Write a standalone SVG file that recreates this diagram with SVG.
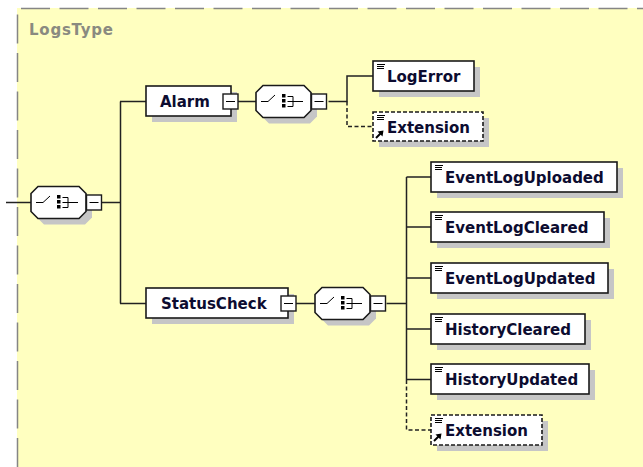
<svg xmlns="http://www.w3.org/2000/svg" xmlns:xlink="http://www.w3.org/1999/xlink" width="643" height="467" viewBox="0 0 643 467">
<style>
.bg{fill:#ffffc0}
.frame{fill:none;stroke:#858585;stroke-width:1.5;stroke-dasharray:29 9.5}
.title{font-family:"DejaVu Sans",sans-serif;font-weight:bold;font-size:15px;fill:#8a8a80}
.lbl{font-family:"DejaVu Sans",sans-serif;font-weight:bold;font-size:15px;fill:#0c0c30}
.box{fill:#fff;stroke:#1a1a1a;stroke-width:1.6}
.dbox{fill:#fff;stroke:#1a1a1a;stroke-width:1.6;stroke-dasharray:4 2}
.shadow{fill:#c6c6c6;stroke:none}
.line{fill:none;stroke:#222;stroke-width:1.5}
.dline{fill:none;stroke:#222;stroke-width:1.5;stroke-dasharray:4 2.5}
.ic{stroke:#000;stroke-width:1;fill:none}
.mb{fill:#fff;stroke:#1a1a1a;stroke-width:1.4}
</style>
<defs>
<g id="minus">
<rect class="mb" x="0" y="0" width="15" height="15"/>
<line class="ic" x1="3" y1="7.5" x2="12" y2="7.5" stroke-width="1.4"/>
</g>
<g id="seq">
<path class="shadow" d="M13,6 H54 L61,13 V31 L54,38 H13 L6,31 V13 Z"/>
<path class="box" d="M7,0 H48 L55,7 V25 L48,32 H7 L0,25 V7 Z"/>
<path class="ic" stroke-width="1.8" d="M5,16 H12 L19,9.5 M31.5,11 H37 V21 H31.5 M31.5,16 H47"/>
<rect x="26" y="8.5" width="3.5" height="3.5" fill="#000"/>
<rect x="26" y="13.5" width="3.5" height="3.5" fill="#000"/>
<rect x="26" y="18.5" width="3.5" height="3.5" fill="#000"/>
<use xlink:href="#minus" x="55.5" y="8.5"/>
</g>
<g id="eicon">
<path class="ic" d="M4,3.5 H12 M4,5.5 H11 M4,7.5 H11"/>
</g>
<g id="xicon">
<path d="M3,26 L8.5,20.5" stroke="#000" stroke-width="2"/>
<polygon points="10.5,18.5 4.5,19.5 9.5,24.5" fill="#000"/>
</g>
</defs>

<rect x="0" y="0" width="643" height="467" fill="#fff"/>
<rect class="bg" x="17" y="8" width="626" height="459"/>
<path class="frame" d="M17.5,467 V8.5 H643"/>
<text class="title" x="29" y="35" textLength="84">LogsType</text>

<g id="connectors">
<path class="line" d="M6,202.5 H31"/>
<path class="line" d="M102,202.5 H120.5 M120.5,101.5 V303.5 M120,101.5 H146 M120,303.5 H146"/>
<path class="line" d="M238,101.5 H256 M328.5,101.5 H347 V76 H373"/>
<path class="dline" d="M347,101.5 V126.5 H373"/>
<path class="line" d="M296,303.5 H315 M386.5,303.5 H406.5 M406.5,177 V380 M406.5,177 H431 M406.5,227 H431 M406.5,278 H431 M406.5,329 H431 M406.5,379.5 H431"/>
<path class="dline" d="M406.5,380 V430 H431"/>
</g>

<g id="root-sequence" transform="translate(31,186.5)"><use xlink:href="#seq"/></g>

<g id="Alarm">
<rect class="shadow" x="152" y="92" width="85" height="30"/>
<rect class="box" x="146" y="86" width="85" height="30"/>
<text class="lbl" x="160" y="107">Alarm</text>
<use xlink:href="#minus" x="223" y="94"/>
</g>
<g id="alarm-sequence" transform="translate(256,85.5)"><use xlink:href="#seq"/></g>

<g id="LogError">
<rect class="shadow" x="379" y="67" width="101" height="30"/>
<rect class="box" x="373" y="61" width="101" height="30"/>
<use xlink:href="#eicon" x="373" y="61"/>
<text class="lbl" x="387" y="82">LogError</text>
</g>
<g id="Extension1">
<rect class="shadow" x="379" y="118" width="110" height="29"/>
<rect class="dbox" x="373" y="112" width="110" height="29"/>
<use xlink:href="#eicon" x="373" y="112"/>
<use xlink:href="#xicon" x="373" y="112"/>
<text class="lbl" x="387" y="133">Extension</text>
</g>

<g id="StatusCheck">
<rect class="shadow" x="152" y="294" width="142" height="30"/>
<rect class="box" x="146" y="288" width="142" height="30"/>
<text class="lbl" x="161" y="309">StatusCheck</text>
<use xlink:href="#minus" x="281" y="296"/>
</g>
<g id="status-sequence" transform="translate(315,287.5)"><use xlink:href="#seq"/></g>

<g id="EventLogUploaded">
<rect class="shadow" x="437" y="168" width="186" height="30"/>
<rect class="box" x="431" y="162" width="186" height="30"/>
<use xlink:href="#eicon" x="431" y="162"/>
<text class="lbl" x="445" y="183">EventLogUploaded</text>
</g>
<g id="EventLogCleared">
<rect class="shadow" x="437" y="218" width="173" height="30"/>
<rect class="box" x="431" y="212" width="173" height="30"/>
<use xlink:href="#eicon" x="431" y="212"/>
<text class="lbl" x="445" y="233">EventLogCleared</text>
</g>
<g id="EventLogUpdated">
<rect class="shadow" x="437" y="269" width="177" height="30"/>
<rect class="box" x="431" y="263" width="177" height="30"/>
<use xlink:href="#eicon" x="431" y="263"/>
<text class="lbl" x="445" y="284">EventLogUpdated</text>
</g>
<g id="HistoryCleared">
<rect class="shadow" x="437" y="320" width="154" height="30"/>
<rect class="box" x="431" y="314" width="154" height="30"/>
<use xlink:href="#eicon" x="431" y="314"/>
<text class="lbl" x="445" y="335">HistoryCleared</text>
</g>
<g id="HistoryUpdated">
<rect class="shadow" x="437" y="370" width="158" height="30"/>
<rect class="box" x="431" y="364" width="158" height="30"/>
<use xlink:href="#eicon" x="431" y="364"/>
<text class="lbl" x="445" y="385">HistoryUpdated</text>
</g>
<g id="Extension2">
<rect class="shadow" x="437" y="421" width="111" height="30"/>
<rect class="dbox" x="431" y="415" width="111" height="30"/>
<use xlink:href="#eicon" x="431" y="415"/>
<use xlink:href="#xicon" x="431" y="415"/>
<text class="lbl" x="445" y="436">Extension</text>
</g>
</svg>
